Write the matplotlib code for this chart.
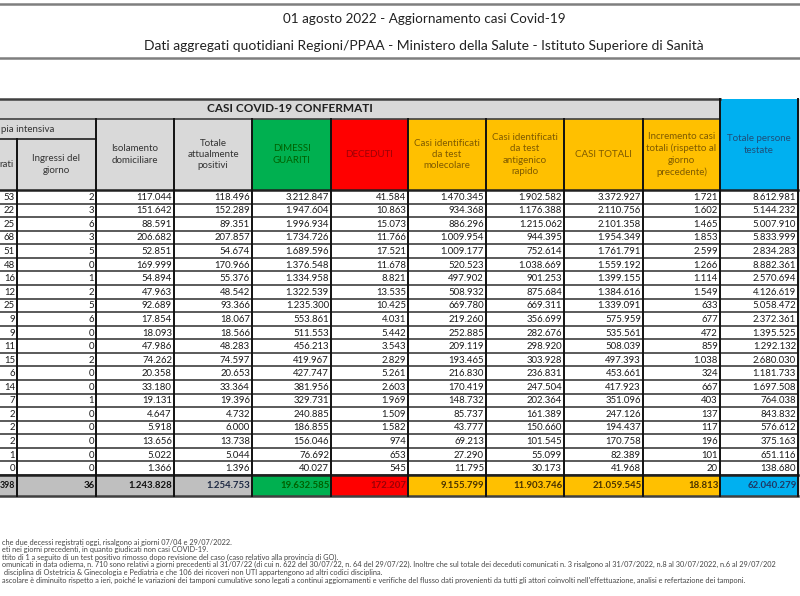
import numpy as np
import matplotlib.pyplot as plt
from matplotlib.patches import Rectangle

plt.rcParams['font.family'] = ['Lato', 'DejaVu Sans']

title = '01 agosto 2022 - Aggiornamento casi Covid-19'
subtitle = ('Dati aggregati quotidiani Regioni/PPAA - Ministero della Salute - '
            'Istituto Superiore di Sanità')

# valori per regione (righe come nel bollettino, prima colonna tagliata a sinistra)
ti_ricoverati = [53, 22, 25, 68, 51, 48, 16, 12, 25, 9, 9, 11, 15, 6, 14, 7, 2, 2, 2, 1, 0]
ti_ingressi = [2, 3, 6, 3, 5, 0, 1, 2, 5, 6, 0, 0, 2, 0, 0, 1, 0, 0, 0, 0, 0]
isolamento = [117044, 151642, 88591, 206682, 52851, 169999, 54894, 47963, 92689, 17854,
              18093, 47986, 74262, 20358, 33180, 19131, 4647, 5918, 13656, 5022, 1366]
attualmente_positivi = [118496, 152289, 89351, 207857, 54674, 170966, 55376, 48542, 93366,
                        18067, 18566, 48283, 74597, 20653, 33364, 19396, 4732, 6000, 13738,
                        5044, 1396]
dimessi_guariti = [3212847, 1947604, 1996934, 1734726, 1689596, 1376548, 1334958, 1322539,
                   1235300, 553861, 511553, 456213, 419967, 427747, 381956, 329731, 240885,
                   186855, 156046, 76692, 40027]
deceduti = [41584, 10863, 15073, 11766, 17521, 11678, 8821, 13535, 10425, 4031, 5442, 3543,
            2829, 5261, 2603, 1969, 1509, 1582, 974, 653, 545]
casi_molecolare = [1470345, 934368, 886296, 1009954, 1009177, 520523, 497902, 508932, 669780,
                   219260, 252885, 209119, 193465, 216830, 170419, 148732, 85737, 43777,
                   69213, 27290, 11795]
casi_antigenico = [1902582, 1176388, 1215062, 944395, 752614, 1038669, 901253, 875684, 669311,
                   356699, 282676, 298920, 303928, 236831, 247504, 202364, 161389, 150660,
                   101545, 55099, 30173]
casi_totali = [3372927, 2110756, 2101358, 1954349, 1761791, 1559192, 1399155, 1384616, 1339091,
               575959, 535561, 508039, 497393, 453661, 417923, 351096, 247126, 194437, 170758,
               82389, 41968]
incremento = [1721, 1602, 1465, 1853, 2599, 1266, 1114, 1549, 633, 677, 472, 859, 1038, 324,
              667, 403, 137, 117, 196, 101, 20]
persone_testate = [8612981, 5144232, 5007910, 5833999, 2834283, 8882361, 2570694, 4126619,
                   5058472, 2372361, 1395525, 1292132, 2680030, 1181733, 1697508, 764038,
                   843832, 576612, 375163, 651116, 138680]
totali = [398, 36, 1243828, 1254753, 19632585, 172207, 9155799, 11903746, 21059545, 18813,
          62040279]

# solo la parte visibile delle intestazioni tagliate a sinistra
headers = ['rati', 'Ingressi del\ngiorno', 'Isolamento\ndomiciliare',
           'Totale\nattualmente\npositivi', 'DIMESSI\nGUARITI', 'DECEDUTI',
           'Casi identificati\nda test\nmolecolare',
           'Casi identificati\nda test\nantigenico\nrapido', 'CASI TOTALI',
           'Incremento casi\ntotali (rispetto al\ngiorno\nprecedente)',
           'Totale persone\ntestate']

footnotes = [
    'che due decessi registrati oggi, risalgono ai giorni 07/04 e 29/07/2022.',
    'eti nei giorni precedenti, in quanto giudicati non casi COVID-19.',
    'ttito di 1 a seguito di un test positivo rimosso dopo revisione del caso (caso relativo alla provincia di GO).',
    'omunicati in data odierna, n. 710 sono relativi a giorni precedenti al 31/07/22 (di cui n. 622 del 30/07/22, n. 64 del 29/07/22). '
    'Inoltre che sul totale dei deceduti comunicati n. 3 risalgono al 31/07/2022, n.8 al 30/07/2022, n.6 al 29/07/202',
    ' disciplina di Ostetricia & Ginecologia e Pediatria e che 106 dei ricoveri non UTI appartengono ad altri codici disciplina.',
    'ascolare è diminuito rispetto a ieri, poiché le variazioni dei tamponi cumulative sono legati a continui aggiornamenti e '
    'verifiche del flusso dati provenienti da tutti gli attori coinvolti nell\'effettuazione, analisi e refertazione dei tamponi.',
]

columns = [ti_ricoverati, ti_ingressi, isolamento, attualmente_positivi, dimessi_guariti,
           deceduti, casi_molecolare, casi_antigenico, casi_totali, incremento, persone_testate]

GREY = '#d9d9d9'
GREY2 = '#bfbfbf'
GREEN = '#00b050'
RED = '#ff0000'
ORANGE = '#ffc000'
BLUE = '#00b0f0'
col_bg = [GREY, GREY, GREY, GREY, GREEN, RED, ORANGE, ORANGE, ORANGE, ORANGE, BLUE]
tot_bg = [GREY2, GREY2, GREY2, GREY2, GREEN, RED, ORANGE, ORANGE, ORANGE, ORANGE, BLUE]
head_fg = ['#333333', '#333333', '#333333', '#333333', '#006100', '#9c0006',
           '#7f5a00', '#7f5a00', '#7f5a00', '#7f5a00', '#1f4e79']
tot_fg = ['#111111', '#111111', '#111111', '#1f2a44', '#006100', '#9c0006',
          '#4a3300', '#4a3300', '#4a3300', '#4a3300', '#1f3864']

edges = [-60, 17, 96, 174, 252, 331, 408, 486, 564, 643, 720, 798]
y_top, y_casi, y_ti, y_head = 99, 119, 139, 190
y_tot, y_bot = 475, 496
n = len(ti_ricoverati)
rh = (y_tot - y_head) / n


def fmt(v):
    return f'{v:,}'.replace(',', '.')


fig = plt.figure(figsize=(8, 5.96), dpi=100)
ax = fig.add_axes([0, 0, 1, 1])
ax.set_xlim(0, 800)
ax.set_ylim(596, 0)
ax.axis('off')

# titolo
ax.plot([0, 800], [4, 4], color='#7f7f7f', lw=1.8)
ax.plot([0, 800], [58, 58], color='#7f7f7f', lw=1.8)
ax.text(424, 19, title, ha='center', va='center', fontsize=9.7, color='#222222')
ax.text(424, 46, subtitle, ha='center', va='center', fontsize=10, color='#222222')

# intestazioni
ax.add_patch(Rectangle((-60, y_top), 780, y_casi - y_top, fc=GREY, ec='none'))
ax.text(290, (y_top + y_casi) / 2, 'CASI COVID-19 CONFERMATI', ha='center', va='center',
        fontsize=8.5, fontweight='bold', color='#222222')
ax.add_patch(Rectangle((-60, y_casi), 156, y_ti - y_casi, fc=GREY, ec='none'))
ax.text(1, (y_casi + y_ti) / 2, 'pia intensiva', ha='left', va='center',
        fontsize=7, color='#333333')
for i, h in enumerate(headers):
    x0, x1 = edges[i], edges[i + 1]
    top = y_ti if i < 2 else y_casi
    if i == 10:
        top = y_top
    ax.add_patch(Rectangle((x0, top), x1 - x0, y_head - top, fc=col_bg[i], ec='none'))
    if i == 0:
        ax.text(14, (top + y_head) / 2, h, ha='right', va='center', fontsize=7,
                color=head_fg[i])
    else:
        ax.text((x0 + x1) / 2, (top + y_head) / 2, h, ha='center', va='center',
                fontsize=7, color=head_fg[i], linespacing=1.35)
ax.add_patch(Rectangle((798, y_top), 10, y_bot - y_top, fc='#dddddd', ec='none'))

# righe dati
for r in range(n):
    yc = y_head + (r + 0.5) * rh
    for i, col in enumerate(columns):
        ax.text(edges[i + 1] - 2, yc + 0.5, fmt(col[r]), ha='right', va='center',
                fontsize=6.9, color='#1a1a1a')
    ax.plot([-60, 798], [y_head + (r + 1) * rh] * 2, color='#4d4d4d', lw=1.3)

# totali
for i, v in enumerate(totali):
    x0, x1 = edges[i], edges[i + 1]
    ax.add_patch(Rectangle((x0, y_tot), x1 - x0, y_bot - y_tot, fc=tot_bg[i], ec='none'))
    fs = 6.3 if i == 0 else 6.9
    ax.text(x1 - 1.5, (y_tot + y_bot) / 2, fmt(v), ha='right', va='center', fontsize=fs,
            fontweight='bold', color=tot_fg[i])

# bordi
ax.plot([-60, 720], [y_top, y_top], color='#404040', lw=1.8)
ax.plot([-60, 720], [y_casi, y_casi], color='#404040', lw=1.2)
ax.plot([-60, 96], [y_ti, y_ti], color='#202020', lw=1.2)
ax.plot([-60, 798], [y_head, y_head], color='#202020', lw=1.8)
ax.plot([-60, 798], [y_tot, y_tot], color='#202020', lw=1.8)
ax.plot([-60, 798], [y_bot, y_bot], color='#404040', lw=1.8)
for k, x in enumerate(edges[1:]):
    top = y_casi
    if k == 0:
        top = y_ti
    if x >= 720:
        top = y_top
    ax.plot([x, x], [top, y_bot], color='#111111', lw=1.4)

# note
for k, t in enumerate(footnotes):
    ax.text(2, 542 + k * 7.6, t, ha='left', va='center', fontsize=5.3, color='#444444')

fig.savefig('out.png', dpi=100)
